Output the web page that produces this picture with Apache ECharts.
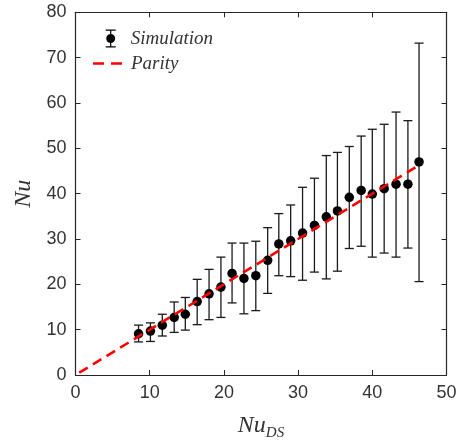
<!DOCTYPE html>
<html>
<head>
<meta charset="utf-8">
<script src="https://cdn.jsdelivr.net/npm/echarts@6/dist/echarts.min.js"></script>
<style>html,body{margin:0;padding:0;background:#fff;}#c{width:462px;height:446px;}</style>
</head>
<body>
<div id="c"></div>
<script>
// Data
var nuDS  = [8.5, 10.1, 11.7, 13.3, 14.8, 16.4, 18.0, 19.6, 21.1, 22.7, 24.3, 25.9, 27.4, 29.0, 30.6, 32.2, 33.8, 35.3, 36.9, 38.5, 40.0, 41.6, 43.2, 44.8, 46.3];
var nu    = [9.1, 9.7, 11.0, 12.7, 13.4, 16.2, 17.9, 19.4, 22.4, 21.3, 21.9, 25.3, 28.9, 29.6, 31.3, 33.0, 34.9, 36.2, 39.2, 40.7, 39.9, 41.1, 42.1, 42.1, 47.0];
var nuHi  = [11.0, 11.5, 13.4, 16.1, 17.1, 21.1, 23.3, 26.0, 29.1, 29.1, 29.5, 32.5, 35.6, 37.5, 41.4, 43.4, 48.4, 49.1, 50.4, 52.7, 54.2, 55.3, 58.0, 56.1, 73.2];
var nuLo  = [7.3, 7.4, 8.6, 9.4, 9.9, 11.1, 12.2, 12.7, 15.9, 13.5, 14.2, 18.0, 21.9, 21.7, 20.9, 22.7, 21.2, 22.9, 27.9, 28.4, 26.0, 26.9, 26.0, 28.0, 20.6];
var parityX = [0.5, 46.5];
var xTicks = [0, 10, 20, 30, 40, 50];
var yTicks = [0, 10, 20, 30, 40, 50, 60, 70, 80];

var points = nuDS.map(function (x, i) { return [x, nu[i]]; });
var errors = nuDS.map(function (x, i) { return [x, nuLo[i], nuHi[i]]; });
var parity = parityX.map(function (x) { return [x, x]; });

var chart = echarts.init(document.getElementById('c'), null, {renderer: 'canvas'});
var axisCol = '#262626';
var tickFont = {fontFamily: 'Liberation Sans', fontSize: 18, color: '#333'};

function xAx(pos, show) {
  return {
    type: 'value', position: pos, min: xTicks[0], max: xTicks[xTicks.length - 1], interval: 10,
    axisLine: {show: true, onZero: false, lineStyle: {color: axisCol, width: 1.2}},
    axisTick: {show: true, inside: true, length: 5, lineStyle: {color: axisCol, width: 1}},
    axisLabel: Object.assign({show: show, margin: 9}, tickFont),
    splitLine: {show: false}
  };
}
function yAx(pos, show) {
  return {
    type: 'value', position: pos, min: yTicks[0], max: yTicks[yTicks.length - 1], interval: 10,
    axisLine: {show: true, onZero: false, lineStyle: {color: axisCol, width: 1.2}},
    axisTick: {show: true, inside: true, length: 5, lineStyle: {color: axisCol, width: 1}},
    axisLabel: Object.assign({show: show, margin: 9}, tickFont),
    splitLine: {show: false}
  };
}

var xMain = xAx('bottom', true);
xMain.name = '{a|Nu}{b|DS}';
xMain.nameLocation = 'middle';
xMain.nameGap = 36;
xMain.nameTextStyle = {
  rich: {
    a: {fontFamily: 'Liberation Serif', fontStyle: 'italic', fontSize: 24, color: '#333', lineHeight: 30, verticalAlign: 'middle'},
    b: {fontFamily: 'Liberation Serif', fontStyle: 'italic', fontSize: 15, color: '#333', lineHeight: 15, verticalAlign: 'bottom'}
  }
};
var yMain = yAx('left', true);
yMain.name = 'Nu';
yMain.nameLocation = 'middle';
yMain.nameGap = 40;
yMain.nameRotate = 90;
yMain.nameTextStyle = {fontFamily: 'Liberation Serif', fontStyle: 'italic', fontSize: 24, color: '#333'};

var errIcon = 'path://M0,0h10v1.2h-10z M4.4,1.2h1.2v3.3h-1.2z M4.4,13.5h1.2v3.3h-1.2z M0,16.8h10v1.2h-10z M0.5,9a4.5,4.5 0 1,0 9,0a4.5,4.5 0 1,0 -9,0z';
var dashIcon = 'path://M0,0h11v2.6h-11z M18,0h11v2.6h-11z';

var option = {
  animation: false,
  backgroundColor: '#fff',
  grid: {left: 75.5, right: 15.5, top: 12.3, bottom: 64, containLabel: false},
  xAxis: [xMain, xAx('top', false)],
  yAxis: [yMain, yAx('right', false)],
  legend: [
    {
      data: [{name: 'Simulation', icon: errIcon}],
      left: 105.7, top: 29, itemWidth: 10, itemHeight: 18, padding: 0,
      selectedMode: false,
      textStyle: {fontFamily: 'Liberation Serif', fontStyle: 'italic', fontSize: 19, color: '#333', padding: [0, 0, 0, 10]}
    },
    {
      data: [{name: 'Parity', icon: dashIcon, itemStyle: {color: '#ff0000'}}],
      left: 93, top: 54, itemWidth: 29, itemHeight: 2.6, padding: 0,
      selectedMode: false,
      textStyle: {fontFamily: 'Liberation Serif', fontStyle: 'italic', fontSize: 19, color: '#333', padding: [0, 0, 0, 4]}
    }
  ],
  series: [
    {
      name: 'Simulation error',
      type: 'custom',
      xAxisIndex: 0, yAxisIndex: 0,
      data: errors,
      z: 2,
      renderItem: function (params, api) {
        var x = api.value(0);
        var lo = api.coord([x, api.value(1)]);
        var hi = api.coord([x, api.value(2)]);
        var hw = 4.5;
        var st = {stroke: '#1a1a1a', lineWidth: 1.3, fill: null};
        return {
          type: 'group',
          children: [
            {type: 'line', shape: {x1: lo[0], y1: lo[1], x2: hi[0], y2: hi[1]}, style: st},
            {type: 'line', shape: {x1: lo[0] - hw, y1: lo[1], x2: lo[0] + hw, y2: lo[1]}, style: st},
            {type: 'line', shape: {x1: hi[0] - hw, y1: hi[1], x2: hi[0] + hw, y2: hi[1]}, style: st}
          ]
        };
      }
    },
    {
      name: 'Simulation',
      type: 'scatter',
      xAxisIndex: 0, yAxisIndex: 0,
      data: points,
      symbol: 'circle',
      symbolSize: 9.5,
      itemStyle: {color: '#000', opacity: 1},
      z: 3
    },
    {
      name: 'Parity',
      type: 'line',
      xAxisIndex: 0, yAxisIndex: 0,
      data: parity,
      symbol: 'none',
      showSymbol: false,
      lineStyle: {color: '#ff0000', width: 2.6, type: [10, 6]},
      itemStyle: {color: '#ff0000'},
      z: 4
    }
  ]
};
chart.setOption(option);
</script>
</body>
</html>
